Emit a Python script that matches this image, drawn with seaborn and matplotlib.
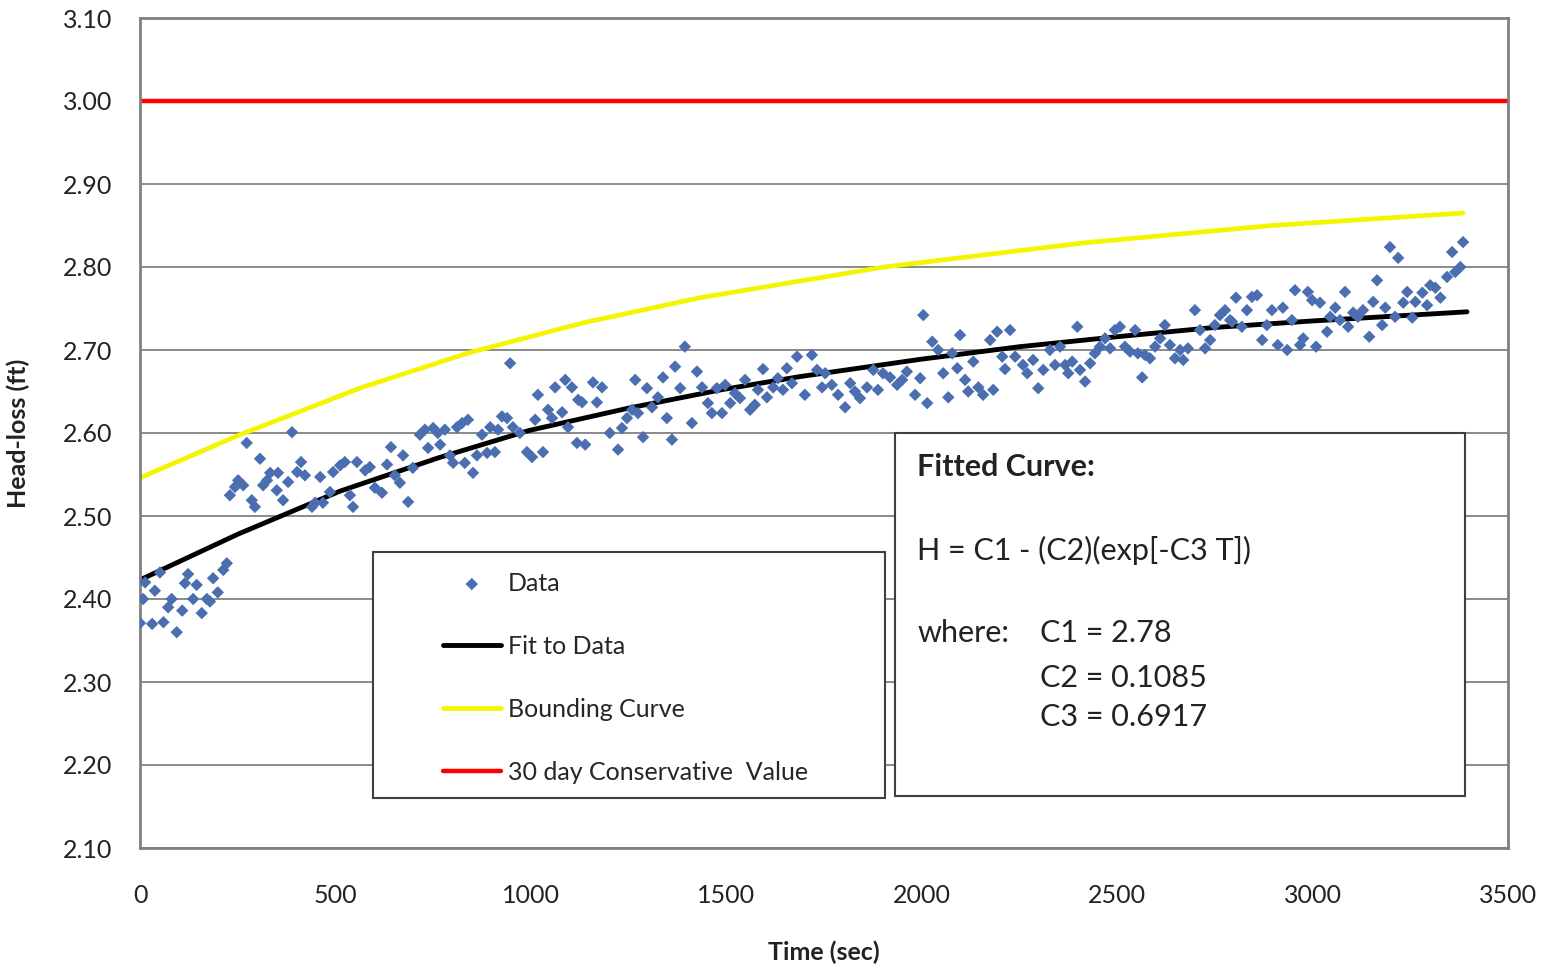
import matplotlib
matplotlib.use("Agg")
import matplotlib.pyplot as plt
import seaborn as sns
import pandas as pd
from matplotlib.patches import Rectangle

# ---------------- data ----------------
data_time = [0, 8, 13, 31, 38, 51, 60, 72, 81, 94, 108, 115, 123, 136, 145, 158, 171, 179, 187, 199, 213, 222,
             230, 243, 251, 264, 273, 286, 294, 307, 315, 325, 333, 350, 353, 366, 379, 389, 402, 412, 422, 440,
             448, 461, 468, 486, 494, 512, 524, 537, 545, 555,
             576, 588, 601, 619, 632, 642, 652, 665, 673, 686, 698, 716, 729, 737, 750, 762, 768, 780, 793, 801,
             811, 824, 831, 839, 852, 862, 875, 888, 896, 908, 916, 926, 939, 947, 954, 972, 990, 1003, 1011,
             1018, 1031, 1044, 1054, 1062, 1080, 1088, 1095, 1105, 1118, 1121,
             1131, 1139, 1159, 1169, 1182, 1202, 1223, 1233, 1246, 1259, 1267, 1274, 1287, 1297, 1310, 1325, 1338,
             1348, 1361, 1369, 1382, 1394, 1412, 1425, 1438, 1453, 1463, 1476, 1489, 1497, 1510, 1522, 1535, 1548,
             1561, 1573, 1581, 1594, 1604, 1620, 1632, 1645, 1655, 1668, 1681,
             1701, 1719, 1732, 1745, 1753, 1770, 1786, 1804, 1817, 1829, 1842, 1860, 1876, 1888, 1901, 1919, 1937,
             1950, 1962, 1983, 1996, 2004, 2014, 2027, 2042, 2055, 2068, 2078, 2091, 2098, 2111, 2119, 2132, 2145,
             2157, 2175, 2183, 2193, 2206, 2213, 2226, 2239,
             2259, 2270, 2285, 2298, 2311, 2328, 2341, 2354, 2367, 2375, 2385, 2398, 2405, 2418, 2431, 2443, 2456,
             2469, 2482, 2494, 2507, 2520, 2533, 2546, 2553, 2564, 2571, 2584, 2597, 2610, 2622, 2635, 2648, 2661,
             2669, 2681, 2699, 2712, 2725, 2738, 2750, 2763, 2776, 2789,
             2794, 2804, 2819, 2832, 2845, 2858, 2871, 2883, 2896, 2911, 2924, 2935, 2947, 2955, 2968, 2976, 2988,
             2999, 3009, 3019, 3037, 3045, 3058, 3070, 3083, 3091, 3104, 3116, 3129, 3145, 3155, 3165, 3178, 3186,
             3198, 3211, 3219, 3232, 3242, 3255, 3263, 3281, 3293, 3301, 3314, 3327, 3344, 3357, 3365, 3378, 3385]
data_head = [2.371, 2.400, 2.420, 2.370, 2.410, 2.432, 2.372, 2.390, 2.400, 2.360, 2.386, 2.419, 2.430, 2.400,
             2.417, 2.383, 2.400, 2.397, 2.425, 2.408, 2.435, 2.443,
             2.525, 2.535, 2.543, 2.537, 2.588, 2.519, 2.511, 2.569, 2.537, 2.543, 2.552, 2.531, 2.552, 2.519,
             2.541, 2.601, 2.553, 2.565, 2.549, 2.511, 2.516, 2.547, 2.516, 2.529, 2.553, 2.561, 2.565, 2.525,
             2.511, 2.565,
             2.555, 2.559, 2.534, 2.528, 2.562, 2.583, 2.549, 2.540, 2.573, 2.517, 2.558, 2.598, 2.604, 2.582,
             2.606, 2.600, 2.586, 2.604, 2.573, 2.564, 2.607, 2.612, 2.564, 2.616, 2.552, 2.573, 2.598, 2.576,
             2.607, 2.577, 2.604, 2.620, 2.618, 2.684, 2.607, 2.600, 2.577, 2.571, 2.616, 2.646, 2.577, 2.628,
             2.618, 2.655, 2.625, 2.664, 2.607, 2.655, 2.588, 2.640,
             2.637, 2.586, 2.661, 2.637, 2.655, 2.600, 2.580, 2.606, 2.618, 2.628, 2.664, 2.624, 2.595, 2.654,
             2.631, 2.643, 2.667, 2.618, 2.592, 2.680, 2.654, 2.704, 2.612, 2.674, 2.655, 2.636, 2.624, 2.654,
             2.624, 2.658, 2.636, 2.648, 2.642, 2.664, 2.628, 2.634, 2.652, 2.677, 2.643, 2.655, 2.666, 2.652,
             2.678, 2.660, 2.692,
             2.646, 2.694, 2.676, 2.655, 2.672, 2.658, 2.646, 2.631, 2.660, 2.650, 2.642, 2.655, 2.676, 2.652,
             2.672, 2.667, 2.658, 2.664, 2.674, 2.646, 2.666, 2.742, 2.636, 2.710, 2.700, 2.672, 2.643, 2.696,
             2.678, 2.718, 2.664, 2.650, 2.686, 2.655, 2.646, 2.712, 2.652, 2.722, 2.692, 2.677, 2.724, 2.692,
             2.682, 2.672, 2.688, 2.654, 2.676, 2.700, 2.682, 2.704, 2.682, 2.672, 2.686, 2.728, 2.676, 2.662,
             2.684, 2.696, 2.704, 2.714, 2.702, 2.724, 2.728, 2.704, 2.698, 2.724, 2.696, 2.667, 2.694, 2.690,
             2.704, 2.714, 2.730, 2.706, 2.690, 2.700, 2.688, 2.702, 2.748, 2.724, 2.702, 2.712, 2.730, 2.742,
             2.748, 2.736,
             2.734, 2.763, 2.728, 2.748, 2.764, 2.766, 2.712, 2.730, 2.748, 2.706, 2.751, 2.700, 2.736, 2.772,
             2.706, 2.714, 2.770, 2.760, 2.704, 2.757, 2.722, 2.740, 2.751, 2.736, 2.770, 2.728, 2.745, 2.740,
             2.748, 2.716, 2.758, 2.784, 2.730, 2.751, 2.824, 2.740, 2.811, 2.757, 2.770, 2.739, 2.758, 2.769,
             2.754, 2.778, 2.775, 2.763, 2.788, 2.818, 2.794, 2.800, 2.830]

fit_time = [0, 250, 512, 763, 995, 1250, 1486, 1689, 2000, 2251, 2500, 2745, 3000, 3395]
fit_head = [2.423, 2.478, 2.530, 2.570, 2.603, 2.630, 2.652, 2.668, 2.689, 2.704, 2.716, 2.727, 2.735, 2.746]

bound_time = [0, 256, 568, 844, 1136, 1433, 1904, 2413, 2896, 3385]
bound_head = [2.546, 2.598, 2.655, 2.697, 2.733, 2.763, 2.800, 2.829, 2.850, 2.865]

limit_time = [0, 3500]
limit_head = [3.00, 3.00]

x_ticks = [0, 500, 1000, 1500, 2000, 2500, 3000, 3500]
y_ticks = [2.10, 2.20, 2.30, 2.40, 2.50, 2.60, 2.70, 2.80, 2.90, 3.00, 3.10]

labels = ["Data", "Fit to Data", "Bounding Curve", "30 day Conservative  Value"]

# ---------------- style ----------------
sns.set_theme(style="white")
plt.rcParams["font.family"] = ["Lato", "DejaVu Sans"]

fig = plt.figure(figsize=(15.47, 9.66), dpi=100)
ax = fig.add_axes([140 / 1547, 1 - 848 / 966, 1368 / 1547, 830 / 966])

df = pd.DataFrame({"t": data_time, "h": data_head})
sns.lineplot(x=fit_time, y=fit_head, color="black", linewidth=3.5, label=labels[1], ax=ax, zorder=2)
sns.lineplot(x=bound_time, y=bound_head, color="#f5f500", linewidth=3.4, label=labels[2], ax=ax, zorder=2)
sns.lineplot(x=limit_time, y=limit_head, color="#ff0000", linewidth=3.2, label=labels[3], ax=ax, zorder=2)
sns.scatterplot(data=df, x="t", y="h", marker="D", s=40, color="#4a6eb0", edgecolor="none",
                label=labels[0], ax=ax, zorder=3)

ax.set_xlim(0, 3500)
ax.set_ylim(2.10, 3.10)
ax.set_xticks(x_ticks)
ax.set_xticklabels([str(v) for v in x_ticks])
ax.set_yticks(y_ticks)
ax.set_yticklabels([f"{v:.2f}" for v in y_ticks])
ax.tick_params(axis="x", length=0, pad=26, labelsize=18, colors="#222222")
ax.tick_params(axis="y", length=0, pad=20, labelsize=18, colors="#222222")
ax.yaxis.grid(True, color="#8a8a8a", linewidth=1.4)
ax.xaxis.grid(False)
ax.set_axisbelow(True)
for sp in ax.spines.values():
    sp.set_color("#808080")
    sp.set_linewidth(2)

ax.set_xlabel("Time (sec)", fontsize=18, fontweight="bold", color="#222222")
ax.set_ylabel("Head-loss (ft)", fontsize=18, fontweight="bold", color="#222222")
ax.xaxis.set_label_coords(0.5, -0.112)
ax.yaxis.set_label_coords(-0.080, 0.5)

# legend box
ax.add_patch(Rectangle((0.1703, 0.0602), 0.3743, 0.2964, transform=ax.transAxes,
                       facecolor="white", edgecolor="#404040", linewidth=1.5, zorder=5))
handles, lbls = ax.get_legend_handles_labels()
order = [lbls.index(l) for l in labels]
leg = ax.legend([handles[i] for i in order], [lbls[i] for i in order],
                loc="upper left", bbox_to_anchor=(0.2215, 0.333), frameon=False,
                borderpad=0, borderaxespad=0, handlelength=2.3, handletextpad=0.28,
                labelspacing=1.6, fontsize=18)
leg.set_zorder(6)

# fitted curve text box
ax.add_patch(Rectangle((0.5519, 0.0627), 0.4167, 0.4373, transform=ax.transAxes,
                       facecolor="white", edgecolor="#404040", linewidth=1.5, zorder=5))
tkw = dict(transform=ax.transAxes, fontsize=22, va="center", ha="left", color="#222222", zorder=6)
ax.text(0.568, 0.459, "Fitted Curve:", fontweight="bold", **tkw)
ax.text(0.568, 0.359, "H = C1 - (C2)(exp[-C3 T])", **tkw)
ax.text(0.568, 0.259, "where:", **tkw)
ax.text(0.658, 0.259, "C1 = 2.78", **tkw)
ax.text(0.658, 0.2048, "C2 = 0.1085", **tkw)
ax.text(0.658, 0.1578, "C3 = 0.6917", **tkw)

fig.savefig("out.png", dpi=100)
